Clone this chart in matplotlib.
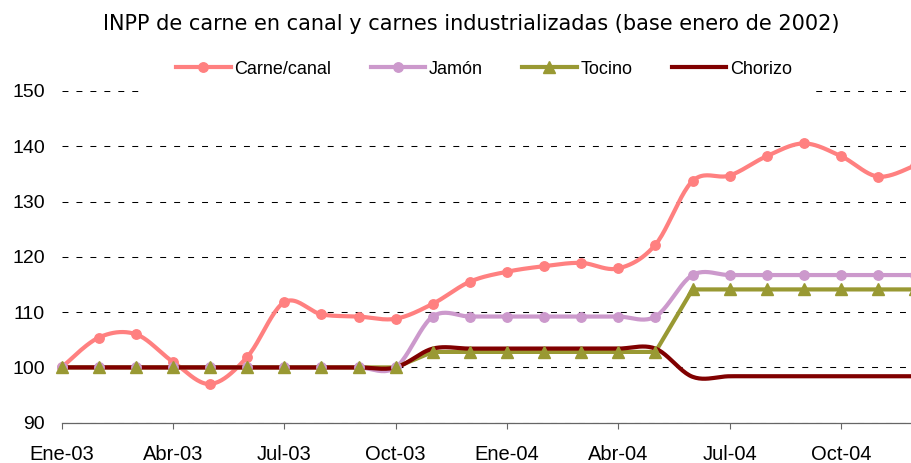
import numpy as np
import matplotlib
matplotlib.use("Agg")
import matplotlib.pyplot as plt
from matplotlib.lines import Line2D
from matplotlib.patches import Rectangle

# ---- data ----
months = list(range(24))  # Ene-03 .. Dic-04
tick_pos = [0, 3, 6, 9, 12, 15, 18, 21]
tick_labels = ["Ene-03", "Abr-03", "Jul-03", "Oct-03", "Ene-04", "Abr-04", "Jul-04", "Oct-04"]

carne = [100, 105.4, 106.0, 101.0, 97.0, 101.9, 111.8, 109.6, 109.2, 108.8, 111.5, 115.5,
         117.3, 118.3, 118.9, 117.9, 122.2, 133.7, 134.7, 138.2, 140.5, 138.2, 134.5, 136.5]
jamon = [100] * 10 + [109.2] * 7 + [116.7] * 7
tocino = [100] * 10 + [102.8] * 7 + [114.1] * 7
chorizo = [100] * 10 + [103.4] * 7 + [98.3] + [98.4] * 6

names = ["Carne/canal", "Jamón", "Tocino", "Chorizo"]
colors = ["#FF8080", "#CC99CC", "#999933", "#800000"]


def smooth(x, y, n=24):
    x = np.asarray(x, float)
    y = np.asarray(y, float)
    px = np.concatenate([[x[0]], x, [x[-1]]])
    py = np.concatenate([[y[0]], y, [y[-1]]])
    xs, ys = [], []
    t = np.linspace(0, 1, n)
    for i in range(1, len(px) - 2):
        p0 = np.array([px[i - 1], py[i - 1]])
        p1 = np.array([px[i], py[i]])
        p2 = np.array([px[i + 1], py[i + 1]])
        p3 = np.array([px[i + 2], py[i + 2]])
        c1 = p1 + (p2 - p0) / 6.0
        c2 = p2 - (p3 - p1) / 6.0
        b = ((1 - t) ** 3)[:, None] * p1 + (3 * (1 - t) ** 2 * t)[:, None] * c1 \
            + (3 * (1 - t) * t ** 2)[:, None] * c2 + (t ** 3)[:, None] * p2
        xs.append(b[:, 0])
        ys.append(b[:, 1])
    return np.concatenate(xs), np.concatenate(ys)


W, H = 912, 463
fig = plt.figure(figsize=(W / 100, H / 100), dpi=100)
plt.rcParams['font.family'] = ['Liberation Sans', 'DejaVu Sans']

x0, x1 = 61.7, 915.2
yb, yt = 422.7, 90.9
ax = fig.add_axes([x0 / W, 1 - yb / H, (x1 - x0) / W, (yb - yt) / H])
ax.set_xlim(0, 23)
ax.set_ylim(90, 150)

ax.set_axisbelow(True)
ax.yaxis.grid(True, color="black", linewidth=0.75, linestyle=(0, (5.7, 7.7)))
ax.set_yticks([90, 100, 110, 120, 130, 140, 150])
ax.tick_params(axis="y", length=0, pad=12, labelsize=14)
ax.set_xticks(tick_pos)
ax.set_xticklabels(tick_labels)
ax.tick_params(axis="x", length=4, width=0.8, color="#666666", direction="out", pad=12, labelsize=14.5)
for s in ["left", "right", "top"]:
    ax.spines[s].set_visible(False)
ax.spines["bottom"].set_color("#666666")
ax.spines["bottom"].set_linewidth(0.9)
ax.spines["bottom"].set_clip_on(False)

# white box behind the legend (covers the top grid line)
ax.add_patch(Rectangle((146 / W, 1 - 97 / H), 666 / W, 40 / H, transform=fig.transFigure,
                       facecolor="white", edgecolor="none", zorder=1, clip_on=False))

lw = 3.0
# lines
sx, sy = smooth(months, carne)
ax.plot(sx, sy, color=colors[0], lw=lw, zorder=3, solid_capstyle="round", clip_on=False)
sx, sy = smooth(months, jamon)
ax.plot(sx, sy, color=colors[1], lw=lw, zorder=3, solid_capstyle="round")
ax.plot(months, tocino, color=colors[2], lw=lw, zorder=3, solid_capstyle="round")
sx, sy = smooth(months, chorizo)
ax.plot(sx, sy, color=colors[3], lw=lw, zorder=3, solid_capstyle="round")
# markers
ax.plot(months, carne, ls="none", marker="o", ms=6.8, color=colors[0], zorder=4, clip_on=False)
ax.plot(months, jamon, ls="none", marker="o", ms=6.8, color=colors[1], zorder=4, clip_on=False)
ax.plot(months, tocino, ls="none", marker="^", ms=8.8, color=colors[2], zorder=4, clip_on=False)

handles = [
    Line2D([], [], color=colors[0], lw=lw, marker="o", ms=6.8),
    Line2D([], [], color=colors[1], lw=lw, marker="o", ms=6.8),
    Line2D([], [], color=colors[2], lw=lw, marker="^", ms=8.8),
    Line2D([], [], color=colors[3], lw=lw),
]
fig.legend(handles, names, loc="center", bbox_to_anchor=(484 / W, 1 - 69 / H), ncol=4,
           frameon=False, fontsize=13, handlelength=3.0, handletextpad=0.2,
           columnspacing=2.2, borderpad=0)

fig.text(471 / W, 1 - 30 / H, "INPP de carne en canal y carnes industrializadas (base enero de 2002)",
         ha="center", va="baseline", fontsize=15, family=["DejaVu Sans"])

fig.savefig("out.png", dpi=100)
